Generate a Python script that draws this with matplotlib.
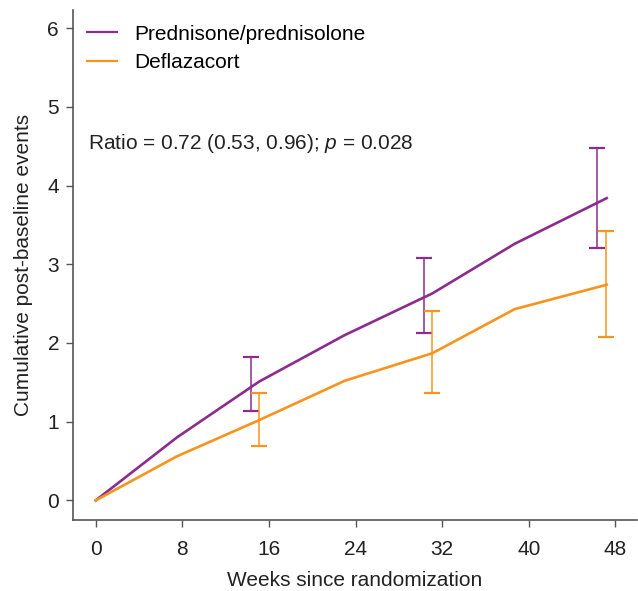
import matplotlib.pyplot as plt

plt.rcParams['font.family'] = ['Liberation Sans', 'DejaVu Sans']
plt.rcParams['mathtext.fontset'] = 'custom'
plt.rcParams['mathtext.rm'] = 'Liberation Sans'
plt.rcParams['mathtext.it'] = 'Liberation Sans:italic'

# data
weeks = [0, 7.5, 15.1, 23.0, 31.1, 38.7, 47.2]
pred = [0, 0.80, 1.51, 2.10, 2.63, 3.26, 3.84]
defl = [0, 0.56, 1.02, 1.52, 1.87, 2.43, 2.74]

ci_weeks_pred = [14.3, 30.3, 46.3]
ci_pred_lo = [1.14, 2.13, 3.21]
ci_pred_hi = [1.82, 3.08, 4.48]
ci_weeks_defl = [15.1, 31.1, 47.1]
ci_defl_lo = [0.69, 1.36, 2.07]
ci_defl_hi = [1.37, 2.41, 3.42]

purple = '#8B2C8E'
orange = '#F7941D'
axcol = '#555555'
txtcol = '#222222'
fs = 15

fig = plt.figure(figsize=(6.38, 5.91), dpi=100)
ax = fig.add_axes([0.1144, 0.12, 0.884, 0.863])

ax.plot(weeks, pred, color=purple, lw=1.9, label='Prednisone/prednisolone')
ax.plot(weeks, defl, color=orange, lw=1.9, label='Deflazacort')

for xs, lo, hi, c in [(ci_weeks_pred, ci_pred_lo, ci_pred_hi, purple),
                      (ci_weeks_defl, ci_defl_lo, ci_defl_hi, orange)]:
    mid = [(a + b) / 2 for a, b in zip(lo, hi)]
    err = [[m - a for m, a in zip(mid, lo)], [b - m for m, b in zip(mid, hi)]]
    ax.errorbar(xs, mid, yerr=err, fmt='none', ecolor=c, elinewidth=1.1,
                capsize=6, capthick=1.6)

ax.set_xlim(-2.1, 50)
ax.set_ylim(-0.25, 6.23)
ax.set_xticks([0, 8, 16, 24, 32, 40, 48])
ax.set_yticks([0, 1, 2, 3, 4, 5, 6])

for s in ['top', 'right']:
    ax.spines[s].set_visible(False)
for s in ['left', 'bottom']:
    ax.spines[s].set_color(axcol)
    ax.spines[s].set_linewidth(1.2)
ax.tick_params(colors=axcol, labelcolor=txtcol, labelsize=fs,
               length=5, width=1.0)
ax.tick_params(axis='x', pad=9)
ax.tick_params(axis='y', pad=5)

ax.set_xlabel('Weeks since randomization', fontsize=fs, color=txtcol, labelpad=9)
ax.set_ylabel('Cumulative post-baseline events', fontsize=fs, color=txtcol, labelpad=10)

leg = ax.legend(loc='upper left', bbox_to_anchor=(-0.008, 1.008), frameon=False,
                fontsize=fs, handlelength=1.45, handletextpad=0.8,
                labelspacing=0.45, borderaxespad=0.5)
for ln in leg.get_lines():
    ln.set_linewidth(1.6)

ax.text(-0.75, 4.54, 'Ratio = 0.72 (0.53, 0.96); $p$ = 0.028', fontsize=fs,
        color=txtcol, va='center', ha='left')

fig.savefig('out.png', dpi=100)
